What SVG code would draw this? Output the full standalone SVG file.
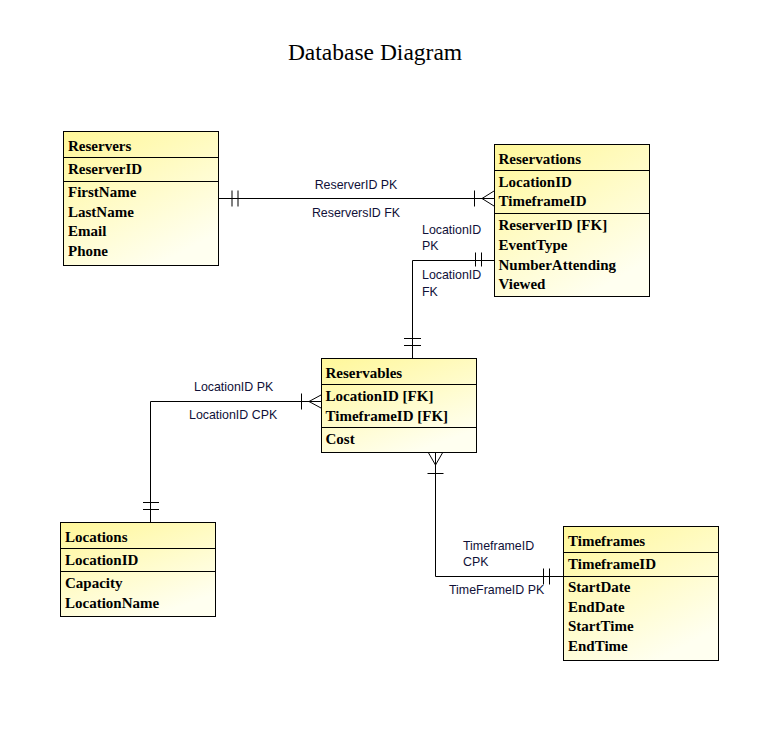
<svg xmlns="http://www.w3.org/2000/svg" width="769" height="755" viewBox="0 0 769 755">
<defs>
<linearGradient id="fillg" x1="0" y1="0" x2="0.6" y2="1">
<stop offset="0" stop-color="#fff799"/>
<stop offset="1" stop-color="#fffff0"/>
</linearGradient>
<style>
.box{fill:url(#fillg);stroke:#000;stroke-width:1}
.sep{stroke:#000;stroke-width:1}
.t{font-family:"Liberation Serif","Times New Roman",serif;font-weight:bold;font-size:15px;fill:#000}
.lbl{font-family:"Liberation Sans",Arial,sans-serif;font-size:12.4px;fill:#101038}
.title{font-family:"Liberation Serif","Times New Roman",serif;font-size:23.5px;fill:#000}
.c{stroke:#000;stroke-width:1;fill:none}
</style>
</defs>
<rect width="769" height="755" fill="#fff"/>
<text class="title" x="375" y="60" text-anchor="middle">Database Diagram</text>

<g id="connectors">
<!-- Reservers - Reservations -->
<path class="c" d="M218.5,198.5 H494"/>
<path class="c" d="M232,190.5 V206.5 M238,190.5 V206.5"/>
<path class="c" d="M474.5,190.5 V206.5"/>
<path class="c" d="M494,191 L482,198.5 L494,206"/>
<!-- Reservations - Reservables -->
<path class="c" d="M494,260.5 H412.5 V358"/>
<path class="c" d="M475.5,252.5 V266.5 M481.5,252.5 V266.5"/>
<path class="c" d="M404,338.5 H421 M404,345.5 H421"/>
<!-- Reservables - Locations -->
<path class="c" d="M321,401.5 H150.5 V522"/>
<path class="c" d="M301.5,393.5 V409.5"/>
<path class="c" d="M321,395 L309,401.5 L321,408"/>
<path class="c" d="M143,502.5 H159 M143,509.5 H159"/>
<!-- Reservables - Timeframes -->
<path class="c" d="M435.5,452 V576.5 H563"/>
<path class="c" d="M428,452 L435.5,465 L443,452"/>
<path class="c" d="M427.5,473.5 H443.5"/>
<path class="c" d="M543.5,568.5 V584.5 M549.5,568.5 V584.5"/>
<!-- labels -->
<text class="lbl" x="356" y="189" text-anchor="middle">ReserverID PK</text>
<text class="lbl" x="356" y="217" text-anchor="middle">ReserversID FK</text>
<text class="lbl" x="422" y="234">LocationID</text>
<text class="lbl" x="422" y="250">PK</text>
<text class="lbl" x="422" y="279">LocationID</text>
<text class="lbl" x="422" y="296">FK</text>
<text class="lbl" x="194" y="391">LocationID PK</text>
<text class="lbl" x="189" y="419">LocationID CPK</text>
<text class="lbl" x="463" y="550">TimeframeID</text>
<text class="lbl" x="463" y="566">CPK</text>
<text class="lbl" x="449" y="594">TimeFrameID PK</text>
</g>

<g id="Reservers">
<rect class="box" x="63.5" y="131.5" width="155" height="134"/>
<path class="sep" d="M63.5,157.5 H218.5 M63.5,181.5 H218.5"/>
<text class="t" x="68" y="151">Reservers</text>
<text class="t" x="68" y="174">ReserverID</text>
<text class="t" x="68" y="197">FirstName</text>
<text class="t" x="68" y="216.5">LastName</text>
<text class="t" x="68" y="236">Email</text>
<text class="t" x="68" y="256">Phone</text>
</g>

<g id="Reservations">
<rect class="box" x="494.5" y="144.5" width="155" height="152"/>
<path class="sep" d="M494.5,170.5 H649.5 M494.5,213.5 H649.5"/>
<text class="t" x="498.5" y="163.5">Reservations</text>
<text class="t" x="498.5" y="186.5">LocationID</text>
<text class="t" x="498.5" y="206">TimeframeID</text>
<text class="t" x="498.5" y="230">ReserverID [FK]</text>
<text class="t" x="498.5" y="249.5">EventType</text>
<text class="t" x="498.5" y="269.5">NumberAttending</text>
<text class="t" x="498.5" y="288.5">Viewed</text>
</g>

<g id="Reservables">
<rect class="box" x="321.5" y="358.5" width="155" height="94"/>
<path class="sep" d="M321.5,384.5 H476.5 M321.5,427.5 H476.5"/>
<text class="t" x="325.5" y="377.5">Reservables</text>
<text class="t" x="325.5" y="400.5">LocationID [FK]</text>
<text class="t" x="325.5" y="420.5">TimeframeID [FK]</text>
<text class="t" x="325.5" y="443.5">Cost</text>
</g>

<g id="Locations">
<rect class="box" x="60.5" y="522.5" width="155" height="94"/>
<path class="sep" d="M60.5,548.5 H215.5 M60.5,571.5 H215.5"/>
<text class="t" x="65" y="541.5">Locations</text>
<text class="t" x="65" y="565">LocationID</text>
<text class="t" x="65" y="588">Capacity</text>
<text class="t" x="65" y="607.5">LocationName</text>
</g>

<g id="Timeframes">
<rect class="box" x="563.5" y="526.5" width="155" height="134"/>
<path class="sep" d="M563.5,552.5 H718.5 M563.5,576.5 H718.5"/>
<text class="t" x="568" y="546">Timeframes</text>
<text class="t" x="568" y="568.5">TimeframeID</text>
<text class="t" x="568" y="592">StartDate</text>
<text class="t" x="568" y="611.5">EndDate</text>
<text class="t" x="568" y="631">StartTime</text>
<text class="t" x="568" y="651">EndTime</text>
</g>
</svg>
